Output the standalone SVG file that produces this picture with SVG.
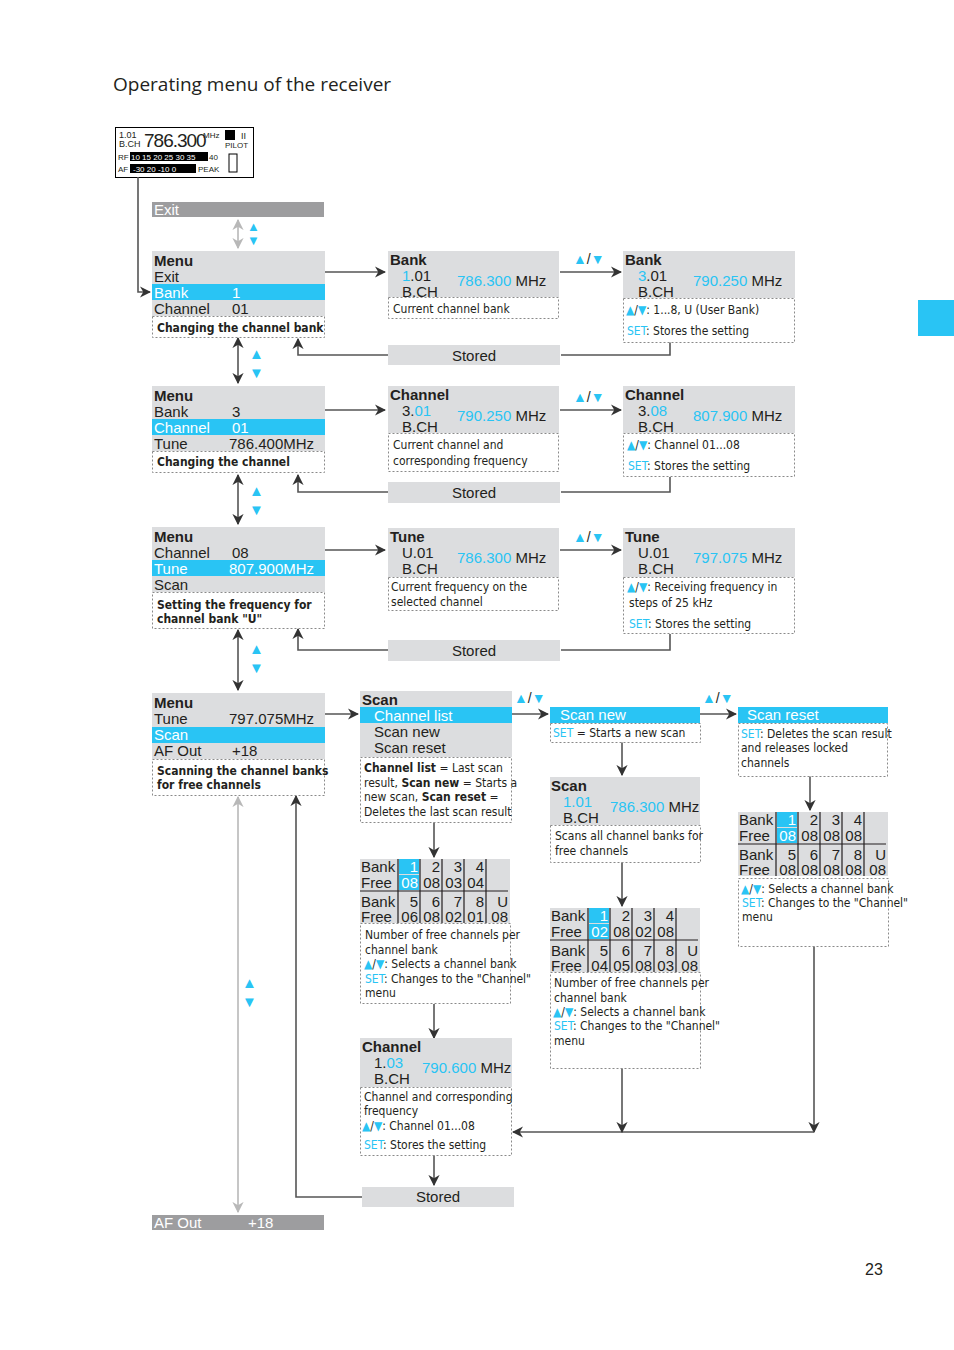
<svg xmlns="http://www.w3.org/2000/svg" width="954" height="1350" viewBox="0 0 954 1350">
<style>
text{font-family:"Liberation Sans",Arial,sans-serif;fill:#231f20}
.t{font-size:15px}.b{font-weight:bold}.w{fill:#fff}.c{fill:#29c4f4}
.n{font-size:12px;font-family:"DejaVu Sans Condensed","Liberation Sans Narrow","Liberation Sans",sans-serif}
.g{fill:#dcdddf}.hl{fill:#29c4f4}
.note{fill:#fff;stroke:#8a8a8a;stroke-dasharray:2 2;stroke-width:1}
.ln{stroke:#555;stroke-width:1.6;fill:none}
.lg{stroke:#b8b8b8;stroke-width:1.6;fill:none}
.tl{stroke:#231f20;stroke-width:1.5}
</style>
<defs>
<marker id="a" viewBox="0 0 10 10" refX="9" refY="5" markerWidth="7" markerHeight="7" orient="auto-start-reverse"><path d="M0,0L10,5L0,10L3,5z" fill="#333"/></marker>
<marker id="ag" viewBox="0 0 10 10" refX="9" refY="5" markerWidth="7" markerHeight="7" orient="auto-start-reverse"><path d="M0,0L10,5L0,10L3,5z" fill="#b8b8b8"/></marker>
</defs>
<text x="113" y="91" style="font-size:19px;font-family:'Open Sans','Liberation Sans',sans-serif">Operating menu of the receiver</text>
<rect x="918" y="300" width="36" height="36" fill="#29c4f4"/>
<text x="865" y="1275" style="font-size:16px">23</text>

<g id="display">
<rect x="115.5" y="127.5" width="138" height="50" fill="#fff" stroke="#000"/>
<text x="119" y="138" style="font-size:9px">1.01</text><text x="119" y="147" style="font-size:9px">B.CH</text>
<text x="144" y="147" style="font-size:19px;letter-spacing:-1px">786.300</text><text x="203" y="138" style="font-size:8px">MHz</text>
<rect x="225" y="130" width="10" height="10" fill="#000"/><text x="241" y="139" style="font-size:9px">II</text>
<text x="225" y="148" style="font-size:8px">PILOT</text>
<text x="118" y="160" style="font-size:8px">RF</text><rect x="130" y="152" width="78" height="9" fill="#000"/><text x="131" y="160" class="w" style="font-size:8px">10 15 20 25 30 35</text><text x="209" y="160" style="font-size:8px">40</text>
<text x="118" y="172" style="font-size:8px">AF</text><rect x="130" y="164" width="66" height="9" fill="#000"/><text x="133" y="172" class="w" style="font-size:8px">-30  20 -10    0</text><text x="198" y="172" style="font-size:8px">PEAK</text>
<rect x="229" y="154" width="8" height="18" fill="#fff" stroke="#000"/>
</g>

<g id="connectors">
<path class="ln" d="M138,177V292H150" marker-end="url(#a)"/>
<path class="lg" d="M238,220V248" marker-start="url(#ag)" marker-end="url(#ag)"/>
<path class="ln" d="M325,272H385" marker-end="url(#a)"/>
<path class="ln" d="M560,272H621" marker-end="url(#a)"/>
<path class="ln" d="M561,355H670V342M388,355H298V339" marker-end="url(#a)"/>
<path class="ln" d="M238,338V383" marker-start="url(#a)" marker-end="url(#a)"/>
<path class="ln" d="M325,410H385" marker-end="url(#a)"/>
<path class="ln" d="M560,410H621" marker-end="url(#a)"/>
<path class="ln" d="M561,492H670V477M388,492H298V475" marker-end="url(#a)"/>
<path class="ln" d="M238,475V524" marker-start="url(#a)" marker-end="url(#a)"/>
<path class="ln" d="M325,550H385" marker-end="url(#a)"/>
<path class="ln" d="M560,550H621" marker-end="url(#a)"/>
<path class="ln" d="M561,650H670V634M388,650H298V629" marker-end="url(#a)"/>
<path class="ln" d="M238,630V690" marker-start="url(#a)" marker-end="url(#a)"/>
<path class="ln" d="M325,714H358" marker-end="url(#a)"/>
<path class="ln" d="M512,714H548" marker-end="url(#a)"/>
<path class="ln" d="M700,714H736" marker-end="url(#a)"/>
<path class="ln" d="M622,742V775" marker-end="url(#a)"/>
<path class="ln" d="M622,862V906" marker-end="url(#a)"/>
<path class="ln" d="M810,776V810" marker-end="url(#a)"/>
<path class="ln" d="M434,822V857" marker-end="url(#a)"/>
<path class="ln" d="M434,1004V1038" marker-end="url(#a)"/>
<path class="ln" d="M434,1155V1185" marker-end="url(#a)"/>
<path class="ln" d="M814,946V1132" marker-end="url(#a)"/>
<path class="ln" d="M814,1132H513" marker-end="url(#a)"/>
<path class="ln" d="M622,1068V1132" marker-end="url(#a)"/>
<path class="ln" d="M362,1197H296V796" marker-end="url(#a)"/>
<path class="lg" d="M238,797V1212" marker-start="url(#ag)" marker-end="url(#ag)"/>
</g>

<g id="updown-labels" style="font-size:13px">
<text x="247" y="231" class="c">▲</text><text x="247" y="245" class="c">▼</text>
<text x="249" y="359" class="c" style="font-size:15px">▲</text><text x="249" y="378" class="c" style="font-size:15px">▼</text>
<text x="249" y="496" class="c" style="font-size:15px">▲</text><text x="249" y="515" class="c" style="font-size:15px">▼</text>
<text x="249" y="654" class="c" style="font-size:15px">▲</text><text x="249" y="673" class="c" style="font-size:15px">▼</text>
<text x="242" y="988" class="c" style="font-size:15px">▲</text><text x="242" y="1007" class="c" style="font-size:15px">▼</text>
<text x="573" y="264" style="font-size:14px"><tspan class="c">▲</tspan>/<tspan class="c">▼</tspan></text>
<text x="573" y="402" style="font-size:14px"><tspan class="c">▲</tspan>/<tspan class="c">▼</tspan></text>
<text x="573" y="542" style="font-size:14px"><tspan class="c">▲</tspan>/<tspan class="c">▼</tspan></text>
<text x="514" y="703" style="font-size:14px"><tspan class="c">▲</tspan>/<tspan class="c">▼</tspan></text>
<text x="702" y="703" style="font-size:14px"><tspan class="c">▲</tspan>/<tspan class="c">▼</tspan></text>
</g>

<g id="exit-top"><rect x="152" y="202" width="172" height="15" fill="#9d9d9f"/><text x="154" y="215" class="t w">Exit</text></g>

<g id="menu1">
<rect x="152" y="251" width="173" height="65" class="g"/><rect x="152" y="284" width="173" height="16" class="hl"/>
<rect x="152.5" y="316.5" width="172" height="21" class="note"/>
<text x="154" y="266" class="t b">Menu</text><text x="154" y="282" class="t">Exit</text>
<text x="154" y="298" class="t w">Bank</text><text x="232" y="298" class="t w">1</text>
<text x="154" y="314" class="t">Channel</text><text x="232" y="314" class="t">01</text>
<text x="157" y="332" class="n b">Changing the channel bank</text>
</g>
<g id="bank1">
<rect x="388" y="251" width="171" height="46" class="g"/><rect x="388.5" y="297.5" width="170" height="21" class="note"/>
<text x="390" y="265" class="t b">Bank</text><text x="402" y="281" class="t"><tspan class="c">1</tspan>.01</text><text x="402" y="297" class="t">B.CH</text>
<text x="457" y="286" class="t"><tspan class="c">786.300</tspan> MHz</text>
<text x="393" y="313" class="n">Current channel bank</text>
</g>
<g id="bank2">
<rect x="623" y="251" width="172" height="47" class="g"/><rect x="623.5" y="298.5" width="171" height="44" class="note"/>
<text x="625" y="265" class="t b">Bank</text><text x="638" y="281" class="t"><tspan class="c">3</tspan>.01</text><text x="638" y="297" class="t">B.CH</text>
<text x="693" y="286" class="t"><tspan class="c">790.250</tspan> MHz</text>
<text x="626" y="314" class="n"><tspan class="c">▲</tspan>/<tspan class="c">▼</tspan>: 1...8, U (User Bank)</text>
<text x="627" y="335" class="n"><tspan class="c">SET</tspan>: Stores the setting</text>
</g>
<g id="stored1"><rect x="388" y="345" width="172" height="20" class="g"/><text x="474" y="361" class="t" text-anchor="middle">Stored</text></g>

<g id="menu2">
<rect x="152" y="386" width="173" height="65" class="g"/><rect x="152" y="419" width="173" height="16" class="hl"/>
<rect x="152.5" y="451.5" width="172" height="21" class="note"/>
<text x="154" y="401" class="t b">Menu</text><text x="154" y="417" class="t">Bank</text><text x="232" y="417" class="t">3</text>
<text x="154" y="433" class="t w">Channel</text><text x="232" y="433" class="t w">01</text>
<text x="154" y="449" class="t">Tune</text><text x="229" y="449" class="t">786.400MHz</text>
<text x="157" y="466" class="n b">Changing the channel</text>
</g>
<g id="channel1">
<rect x="388" y="386" width="171" height="47" class="g"/><rect x="388.5" y="433.5" width="170" height="38" class="note"/>
<text x="390" y="400" class="t b">Channel</text><text x="402" y="416" class="t">3.<tspan class="c">01</tspan></text><text x="402" y="432" class="t">B.CH</text>
<text x="457" y="421" class="t"><tspan class="c">790.250</tspan> MHz</text>
<text x="393" y="449" class="n">Current channel and</text><text x="393" y="465" class="n">corresponding frequency</text>
</g>
<g id="channel2">
<rect x="623" y="386" width="172" height="47" class="g"/><rect x="623.5" y="433.5" width="171" height="43" class="note"/>
<text x="625" y="400" class="t b">Channel</text><text x="638" y="416" class="t">3.<tspan class="c">08</tspan></text><text x="638" y="432" class="t">B.CH</text>
<text x="693" y="421" class="t"><tspan class="c">807.900</tspan> MHz</text>
<text x="627" y="449" class="n"><tspan class="c">▲</tspan>/<tspan class="c">▼</tspan>: Channel 01...08</text>
<text x="628" y="470" class="n"><tspan class="c">SET</tspan>: Stores the setting</text>
</g>
<g id="stored2"><rect x="388" y="482" width="172" height="21" class="g"/><text x="474" y="498" class="t" text-anchor="middle">Stored</text></g>

<g id="menu3">
<rect x="152" y="527" width="173" height="65" class="g"/><rect x="152" y="560" width="173" height="16" class="hl"/>
<rect x="152.5" y="592.5" width="172" height="36" class="note"/>
<text x="154" y="542" class="t b">Menu</text><text x="154" y="558" class="t">Channel</text><text x="232" y="558" class="t">08</text>
<text x="154" y="574" class="t w">Tune</text><text x="229" y="574" class="t w">807.900MHz</text>
<text x="154" y="590" class="t">Scan</text>
<text x="157" y="609" class="n b">Setting the frequency for</text><text x="157" y="623" class="n b">channel bank "U"</text>
</g>
<g id="tune1">
<rect x="388" y="528" width="171" height="49" class="g"/><rect x="388.5" y="577.5" width="170" height="33" class="note"/>
<text x="390" y="542" class="t b">Tune</text><text x="402" y="558" class="t">U.01</text><text x="402" y="574" class="t">B.CH</text>
<text x="457" y="563" class="t"><tspan class="c">786.300</tspan> MHz</text>
<text x="391" y="591" class="n">Current frequency on the</text><text x="391" y="606" class="n">selected channel</text>
</g>
<g id="tune2">
<rect x="623" y="528" width="172" height="49" class="g"/><rect x="623.5" y="577.5" width="171" height="56" class="note"/>
<text x="625" y="542" class="t b">Tune</text><text x="638" y="558" class="t">U.01</text><text x="638" y="574" class="t">B.CH</text>
<text x="693" y="563" class="t"><tspan class="c">797.075</tspan> MHz</text>
<text x="627" y="591" class="n"><tspan class="c">▲</tspan>/<tspan class="c">▼</tspan>: Receiving frequency in</text>
<text x="629" y="607" class="n">steps of 25 kHz</text>
<text x="629" y="628" class="n"><tspan class="c">SET</tspan>: Stores the setting</text>
</g>
<g id="stored3"><rect x="388" y="640" width="172" height="21" class="g"/><text x="474" y="656" class="t" text-anchor="middle">Stored</text></g>

<g id="menu4">
<rect x="152" y="693" width="173" height="66" class="g"/><rect x="152" y="727" width="173" height="16" class="hl"/>
<rect x="152.5" y="759.5" width="172" height="36" class="note"/>
<text x="154" y="708" class="t b">Menu</text><text x="154" y="724" class="t">Tune</text><text x="229" y="724" class="t">797.075MHz</text>
<text x="154" y="740" class="t w">Scan</text>
<text x="154" y="756" class="t">AF Out</text><text x="232" y="756" class="t">+18</text>
<text x="157" y="775" class="n b">Scanning the channel banks</text><text x="157" y="789" class="n b">for free channels</text>
</g>

<g id="scan-menu">
<rect x="360" y="691" width="152" height="66" class="g"/><rect x="360" y="707" width="152" height="16" class="hl"/>
<rect x="360.5" y="757.5" width="151" height="65" class="note"/>
<text x="362" y="705" class="t b">Scan</text><text x="374" y="721" class="t w">Channel list</text>
<text x="374" y="737" class="t">Scan new</text><text x="374" y="753" class="t">Scan reset</text>
<text x="364" y="772" class="n"><tspan class="b">Channel list</tspan> = Last scan</text>
<text x="364" y="787" class="n">result, <tspan class="b">Scan new</tspan> = Starts a</text>
<text x="364" y="801" class="n">new scan, <tspan class="b">Scan reset</tspan> =</text>
<text x="364" y="816" class="n">Deletes the last scan result</text>
</g>
<g id="scan-new">
<rect x="550" y="707" width="150" height="16" class="hl"/><rect x="550.5" y="723.5" width="150" height="19" class="note"/>
<text x="560" y="720" class="t w">Scan new</text>
<text x="553" y="737" class="n"><tspan class="c">SET</tspan> = Starts a new scan</text>
</g>
<g id="scan-reset">
<rect x="738" y="707" width="150" height="16" class="hl"/><rect x="738.5" y="723.5" width="149" height="53" class="note"/>
<text x="747" y="720" class="t w">Scan reset</text>
<text x="741" y="738" class="n"><tspan class="c">SET</tspan>: Deletes the scan result</text>
<text x="741" y="752" class="n">and releases locked</text><text x="741" y="767" class="n">channels</text>
</g>
<g id="scan-progress">
<rect x="550" y="777" width="150" height="48" class="g"/><rect x="550.5" y="825.5" width="150" height="37" class="note"/>
<text x="551" y="791" class="t b">Scan</text><text x="563" y="807" class="t c">1.01</text><text x="563" y="823" class="t">B.CH</text>
<text x="610" y="812" class="t"><tspan class="c">786.300</tspan> MHz</text>
<text x="555" y="840" class="n">Scans all channel banks for</text><text x="555" y="855" class="n">free channels</text>
</g>

<g id="table-left" transform="translate(360,859)">
<rect width="150" height="64" class="g"/>
<rect x="39" y="0" width="20" height="15" class="hl"/><rect x="39" y="16" width="20" height="15" class="hl"/>
<path class="tl" d="M38,0V64M60,0V64M82,0V64M104,0V64M126,0V64M0,32H148" style="stroke-width:1.2"/>
<g class="t"><text x="1" y="13">Bank</text><text x="1" y="29">Free</text><text x="1" y="48">Bank</text><text x="1" y="63">Free</text></g>
<g class="t" text-anchor="end"><text x="58" y="13" class="w">1</text><text x="80" y="13">2</text><text x="102" y="13">3</text><text x="124" y="13">4</text>
<text x="58" y="29" class="w">08</text><text x="80" y="29">08</text><text x="102" y="29">03</text><text x="124" y="29">04</text>
<text x="58" y="48">5</text><text x="80" y="48">6</text><text x="102" y="48">7</text><text x="124" y="48">8</text><text x="148" y="48">U</text>
<text x="58" y="63">06</text><text x="80" y="63">08</text><text x="102" y="63">02</text><text x="124" y="63">01</text><text x="148" y="63">08</text></g>
</g>
<g id="note-left"><rect x="360.5" y="923.5" width="150" height="80" class="note"/>
<text x="365" y="939" class="n">Number of free channels per</text><text x="365" y="954" class="n">channel bank</text>
<text x="364" y="968" class="n"><tspan class="c">▲</tspan>/<tspan class="c">▼</tspan>: Selects a channel bank</text>
<text x="365" y="983" class="n"><tspan class="c">SET</tspan>: Changes to the "Channel"</text><text x="365" y="997" class="n">menu</text></g>

<g id="table-mid" transform="translate(550,908)">
<rect width="150" height="64" class="g"/>
<rect x="39" y="0" width="20" height="15" class="hl"/><rect x="39" y="16" width="20" height="15" class="hl"/>
<path class="tl" d="M38,0V64M60,0V64M82,0V64M104,0V64M126,0V64M0,32H148" style="stroke-width:1.2"/>
<g class="t"><text x="1" y="13">Bank</text><text x="1" y="29">Free</text><text x="1" y="48">Bank</text><text x="1" y="63">Free</text></g>
<g class="t" text-anchor="end"><text x="58" y="13" class="w">1</text><text x="80" y="13">2</text><text x="102" y="13">3</text><text x="124" y="13">4</text>
<text x="58" y="29" class="w">02</text><text x="80" y="29">08</text><text x="102" y="29">02</text><text x="124" y="29">08</text>
<text x="58" y="48">5</text><text x="80" y="48">6</text><text x="102" y="48">7</text><text x="124" y="48">8</text><text x="148" y="48">U</text>
<text x="58" y="63">04</text><text x="80" y="63">05</text><text x="102" y="63">08</text><text x="124" y="63">03</text><text x="148" y="63">08</text></g>
</g>
<g id="note-mid"><rect x="550.5" y="972.5" width="150" height="96" class="note"/>
<text x="554" y="987" class="n">Number of free channels per</text><text x="554" y="1002" class="n">channel bank</text>
<text x="553" y="1016" class="n"><tspan class="c">▲</tspan>/<tspan class="c">▼</tspan>: Selects a channel bank</text>
<text x="554" y="1030" class="n"><tspan class="c">SET</tspan>: Changes to the "Channel"</text><text x="554" y="1045" class="n">menu</text></g>

<g id="table-right" transform="translate(738,812)">
<rect width="150" height="64" class="g"/>
<rect x="39" y="0" width="20" height="15" class="hl"/><rect x="39" y="16" width="20" height="15" class="hl"/>
<path class="tl" d="M38,0V64M60,0V64M82,0V64M104,0V64M126,0V64M0,32H148" style="stroke-width:1.2"/>
<g class="t"><text x="1" y="13">Bank</text><text x="1" y="29">Free</text><text x="1" y="48">Bank</text><text x="1" y="63">Free</text></g>
<g class="t" text-anchor="end"><text x="58" y="13" class="w">1</text><text x="80" y="13">2</text><text x="102" y="13">3</text><text x="124" y="13">4</text>
<text x="58" y="29" class="w">08</text><text x="80" y="29">08</text><text x="102" y="29">08</text><text x="124" y="29">08</text>
<text x="58" y="48">5</text><text x="80" y="48">6</text><text x="102" y="48">7</text><text x="124" y="48">8</text><text x="148" y="48">U</text>
<text x="58" y="63">08</text><text x="80" y="63">08</text><text x="102" y="63">08</text><text x="124" y="63">08</text><text x="148" y="63">08</text></g>
</g>
<g id="note-right"><rect x="738.5" y="878.5" width="150" height="68" class="note"/>
<text x="741" y="893" class="n"><tspan class="c">▲</tspan>/<tspan class="c">▼</tspan>: Selects a channel bank</text>
<text x="742" y="907" class="n"><tspan class="c">SET</tspan>: Changes to the "Channel"</text><text x="742" y="921" class="n">menu</text></g>

<g id="channel-scan">
<rect x="360" y="1038" width="152" height="49" class="g"/><rect x="360.5" y="1087.5" width="151" height="68" class="note"/>
<text x="362" y="1052" class="t b">Channel</text><text x="374" y="1068" class="t">1.<tspan class="c">03</tspan></text><text x="374" y="1084" class="t">B.CH</text>
<text x="422" y="1073" class="t"><tspan class="c">790.600</tspan> MHz</text>
<text x="364" y="1101" class="n">Channel and corresponding</text><text x="364" y="1115" class="n">frequency</text>
<text x="362" y="1130" class="n"><tspan class="c">▲</tspan>/<tspan class="c">▼</tspan>: Channel 01...08</text>
<text x="364" y="1149" class="n"><tspan class="c">SET</tspan>: Stores the setting</text>
</g>
<g id="stored4"><rect x="362" y="1187" width="152" height="20" class="g"/><text x="438" y="1202" class="t" text-anchor="middle">Stored</text></g>
<g id="afout-bottom"><rect x="152" y="1215" width="172" height="15" fill="#9d9d9f"/><text x="154" y="1228" class="t w">AF Out</text><text x="248" y="1228" class="t w">+18</text></g>
</svg>
